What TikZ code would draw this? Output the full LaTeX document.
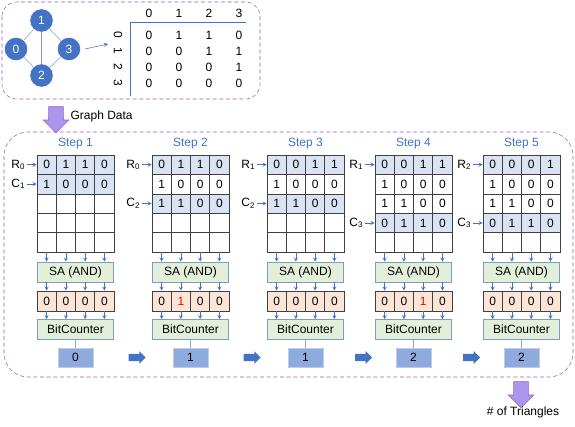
\documentclass[tikz,border=0pt]{standalone}
\usepackage{fontspec}
\setmainfont{Liberation Sans}
\usepackage{xcolor}
\usepackage{tikz}
\usetikzlibrary{shapes,arrows,positioning,calc}

\definecolor{stepblue}{RGB}{68,114,196}
\definecolor{hlblue}{RGB}{218,227,243}
\definecolor{sagreen}{RGB}{226,240,217}
\definecolor{resorange}{RGB}{251,229,214}
\definecolor{cntblue}{RGB}{143,170,220}
\definecolor{dashpurple}{RGB}{150,90,200}
\definecolor{arrowpurple}{RGB}{172,150,236}

\begin{document}
\begin{tikzpicture}[
  x=0.75pt, y=-0.75pt,
  font=\fontsize{9}{11}\selectfont,
  cell/.style={draw=black!75, minimum width=14.44pt, minimum height=14.55pt, inner sep=0pt},
  rescell/.style={cell, fill=resorange, minimum height=15pt},
  unit/.style={draw=cntblue!90!black, fill=sagreen, minimum width=57pt, minimum height=15pt, inner sep=0pt},
  count/.style={draw=cntblue!60, fill=cntblue, minimum width=26.25pt, minimum height=14.25pt, inner sep=0pt},
  vert/.style={circle, fill=stepblue, draw=white, text=white, minimum size=17.5pt, inner sep=0pt},
  edge/.style={stepblue!70, thin},
  arrow/.style={->, >=stealth, stepblue},
  dashbox/.style={draw=dashpurple, densely dashed, thin},
  purplearrow/.style={single arrow, draw=dashpurple, fill=arrowpurple, minimum height=19.5pt,
    inner sep=5.3pt, single arrow head extend=4pt, shape border rotate=270},
  bluearrow/.style={single arrow, fill=stepblue, minimum height=12.75pt,
    inner sep=2.6pt, single arrow head extend=2pt},
  steptitle/.style={text=stepblue}
]
  \useasboundingbox (0,0) rectangle (575,426);

  % Graph and its adjacency matrix
  \draw[dashbox, rounded corners=11pt] (2,2) rectangle (260,99);
  \node[vert] (g1) at (41.5,20.5) {1};
  \node[vert] (g0) at (16,49) {0};
  \node[vert] (g3) at (69,49) {3};
  \node[vert] (g2) at (41.5,75.5) {2};
  \foreach \a/\b in {0/1, 1/3, 1/2, 0/2, 2/3}
    \draw[edge] (g\a) -- (g\b);

  \coordinate (mtx) at (108,44);
  \draw[arrow] ([xshift=3pt]g3.east) -- (mtx);

  \foreach \i in {0,...,3}
    \node (h\i) at (149+30*\i, 13) {\i};
  \foreach \row [count=\r from 0] in {{0,1,1,0},{0,0,1,1},{0,0,0,1},{0,0,0,0}} {
    \node[rotate=-90] (l\r) at (118, 35+16*\r) {\r};
    \foreach \v [count=\c from 0] in \row
      \node (a\r\c) at (149+30*\c, 35+16*\r) {\v};
  }
  \draw[stepblue] (246,22) -- (130,22) -- (130,96);

  % Graph data
  \node[purplearrow] (gd) at (56,116) {};
  \node[anchor=west, inner sep=1pt] (gdl) at (69,116) {Graph Data};

  % Steps
  \draw[dashbox, rounded corners=18pt] (4,132) rectangle (573,377);
  \foreach \s/\xl/\ra/\rb/\la/\lb/\hot/\n in {
      1/37/1/2/R\textsubscript{0}/C\textsubscript{1}/0/0,
      2/152/1/3/R\textsubscript{0}/C\textsubscript{2}/2/1,
      3/267/1/3/R\textsubscript{1}/C\textsubscript{2}/0/1,
      4/375/1/4/R\textsubscript{1}/C\textsubscript{3}/3/2,
      5/483/1/4/R\textsubscript{2}/C\textsubscript{3}/0/2} {
    \node[steptitle] (t\s) at (\xl+38.5, 144) {Step \s};
    \foreach \r in {1,...,5} {
      \def\cf{white}
      \ifnum\r=\ra \def\cf{hlblue}\fi
      \ifnum\r=\rb \def\cf{hlblue}\fi
      \foreach \c in {1,...,4}
        \node[cell, fill=\cf] (c\s-\r-\c) at (\xl+19.25*\c-9.625, 145.3+19.4*\r) {};
    }
    \node[anchor=east, inner sep=1pt] (ra\s) at ([xshift=-7.5pt]c\s-\ra-1.west) {\la};
    \node[anchor=east, inner sep=1pt] (rb\s) at ([xshift=-7.5pt]c\s-\rb-1.west) {\lb};
    \draw[arrow] (ra\s.east) -- (c\s-\ra-1.west);
    \draw[arrow] (rb\s.east) -- (c\s-\rb-1.west);

    \node[unit] (sa\s) at (\xl+38.5, 272) {SA (AND)};
    \foreach \c in {1,...,4} {
      \node[rescell] (r\s-\c) at (\xl+19.25*\c-9.625, 301)
        {\ifnum\c=\hot \textcolor{red}{1}\else 0\fi};
      \draw[arrow] (c\s-5-\c.south) -- (sa\s.north -| c\s-5-\c);
      \draw[arrow] (sa\s.south -| r\s-\c) -- (r\s-\c.north);
    }
    \node[unit] (bc\s) at (\xl+38.5, 329.5) {BitCounter};
    \foreach \c in {1,...,4}
      \draw[arrow] (r\s-\c.south) -- (bc\s.north -| r\s-\c);
    \node[count] (n\s) at (\xl+38.5, 357.5) {\n};
    \draw[stepblue!60] (bc\s) -- (n\s);
  }

  % Matrix contents
  \foreach \s/\rows in {
      1/{{0,1,1,0},{1,0,0,0}},
      2/{{0,1,1,0},{1,0,0,0},{1,1,0,0}},
      3/{{0,0,1,1},{1,0,0,0},{1,1,0,0}},
      4/{{0,0,1,1},{1,0,0,0},{1,1,0,0},{0,1,1,0}},
      5/{{0,0,0,1},{1,0,0,0},{1,1,0,0},{0,1,1,0}}}
    \foreach \row [count=\r] in \rows
      \foreach \v [count=\c] in \row
        \node (v\s-\r-\c) at (c\s-\r-\c) {\v};

  % Partial counts
  \foreach \a/\b in {1/2, 2/3, 3/4, 4/5}
    \node[bluearrow] (ba\a) at ($(n\a)!0.52!(n\b)$) {};

  % Output
  \node[purplearrow] (out) at (521,391) {};
  \node[inner sep=1pt] (tri) at (523,412) {\# of Triangles};
\end{tikzpicture}
\end{document}
